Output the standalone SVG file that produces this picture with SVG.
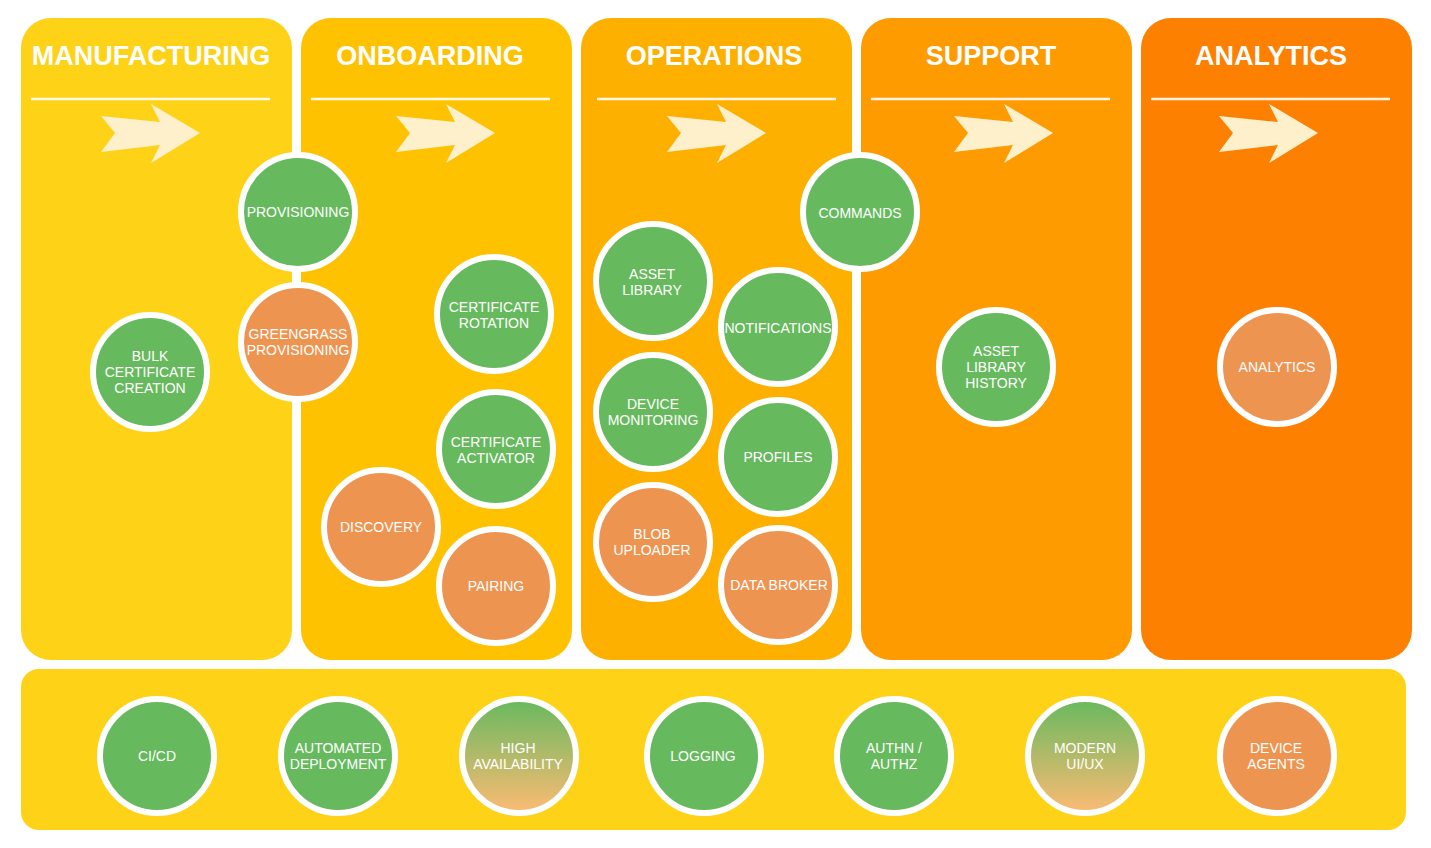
<svg xmlns="http://www.w3.org/2000/svg" width="1431" height="848" viewBox="0 0 1431 848">
  <defs>
    <style>
      .title { font-family: "Liberation Sans", Arial, sans-serif; font-weight: bold; font-size: 27px; fill: #ffffff; text-anchor: middle; }
      .rule { stroke: #ffffff; stroke-width: 2.5; stroke-opacity: 0.9; }
      .arrow { fill: #FFF0CC; }
      .node circle { stroke: #ffffff; stroke-width: 6; }
      .green { fill: #67B95E; }
      .orange { fill: #EE9451; }
      .grad { fill: url(#mixFill); }
      .node text { font-family: "Liberation Sans", Arial, sans-serif; font-size: 14px; fill: #ffffff; text-anchor: middle; }
    </style>
    <linearGradient id="mixFill" x1="0" y1="0" x2="0" y2="1">
      <stop offset="0" stop-color="#67B95E"/>
      <stop offset="1" stop-color="#FDBB74"/>
    </linearGradient>
    <path id="chevron" d="M101,116 L115,133 L101,152 L160,145 L151,163 L200,133 L151,104 L160,122 Z"/>
  </defs>

  <!-- lanes -->
  <g id="lane-manufacturing">
    <rect x="21" y="18" width="271" height="642" rx="30" fill="#FDD217"/>
    <text class="title" x="151" y="65">MANUFACTURING</text>
    <line class="rule" x1="31" y1="99" x2="270" y2="99"/>
    <use href="#chevron" class="arrow"/>
  </g>
  <g id="lane-onboarding">
    <rect x="301" y="18" width="271" height="642" rx="30" fill="#FEC200"/>
    <text class="title" x="430" y="65">ONBOARDING</text>
    <line class="rule" x1="311" y1="99" x2="550" y2="99"/>
    <use href="#chevron" class="arrow" x="295"/>
  </g>
  <g id="lane-operations">
    <rect x="581" y="18" width="271" height="642" rx="30" fill="#FEB000"/>
    <text class="title" x="714" y="65">OPERATIONS</text>
    <line class="rule" x1="597" y1="99" x2="836" y2="99"/>
    <use href="#chevron" class="arrow" x="566"/>
  </g>
  <g id="lane-support">
    <rect x="861" y="18" width="271" height="642" rx="30" fill="#FE9B00"/>
    <text class="title" x="991" y="65">SUPPORT</text>
    <line class="rule" x1="871" y1="99" x2="1110" y2="99"/>
    <use href="#chevron" class="arrow" x="853"/>
  </g>
  <g id="lane-analytics">
    <rect x="1141" y="18" width="271" height="642" rx="30" fill="#FE8000"/>
    <text class="title" x="1271" y="65">ANALYTICS</text>
    <line class="rule" x1="1151" y1="99" x2="1390" y2="99"/>
    <use href="#chevron" class="arrow" x="1118"/>
  </g>

  <!-- cross-cutting band -->
  <g id="foundation-band">
    <rect x="21" y="669" width="1385" height="161" rx="18" fill="#FDD217"/>
  </g>

  <g id="connectors"/>

  <!-- lane nodes -->
  <g id="node-provisioning" class="node"><circle class="green" cx="298" cy="212" r="57"/><text x="298" y="217">PROVISIONING</text></g>
  <g id="node-greengrass-provisioning" class="node"><circle class="orange" cx="298" cy="342" r="57"/><text x="298" y="339">GREENGRASS</text><text x="298" y="355">PROVISIONING</text></g>
  <g id="node-bulk-certificate" class="node"><circle class="green" cx="150" cy="372" r="57"/><text x="150" y="361">BULK</text><text x="150" y="377">CERTIFICATE</text><text x="150" y="393">CREATION</text></g>
  <g id="node-certificate-rotation" class="node"><circle class="green" cx="494" cy="314" r="57"/><text x="494" y="312">CERTIFICATE</text><text x="494" y="328">ROTATION</text></g>
  <g id="node-certificate-activator" class="node"><circle class="green" cx="496" cy="449" r="57"/><text x="496" y="447">CERTIFICATE</text><text x="496" y="463">ACTIVATOR</text></g>
  <g id="node-discovery" class="node"><circle class="orange" cx="381" cy="527" r="57"/><text x="381" y="532">DISCOVERY</text></g>
  <g id="node-pairing" class="node"><circle class="orange" cx="496" cy="586" r="57"/><text x="496" y="591">PAIRING</text></g>
  <g id="node-asset-library" class="node"><circle class="green" cx="653" cy="281" r="57"/><text x="652" y="279">ASSET</text><text x="652" y="295">LIBRARY</text></g>
  <g id="node-notifications" class="node"><circle class="green" cx="778" cy="327" r="57"/><text x="778" y="333">NOTIFICATIONS</text></g>
  <g id="node-device-monitoring" class="node"><circle class="green" cx="653" cy="412" r="57"/><text x="653" y="409">DEVICE</text><text x="653" y="425">MONITORING</text></g>
  <g id="node-profiles" class="node"><circle class="green" cx="778" cy="457" r="57"/><text x="778" y="462">PROFILES</text></g>
  <g id="node-blob-uploader" class="node"><circle class="orange" cx="653" cy="542" r="57"/><text x="652" y="539">BLOB</text><text x="652" y="555">UPLOADER</text></g>
  <g id="node-data-broker" class="node"><circle class="orange" cx="778" cy="585" r="57"/><text x="779" y="590">DATA BROKER</text></g>
  <g id="node-commands" class="node"><circle class="green" cx="860" cy="212" r="57"/><text x="860" y="218">COMMANDS</text></g>
  <g id="node-asset-library-history" class="node"><circle class="green" cx="996" cy="367" r="57"/><text x="996" y="356">ASSET</text><text x="996" y="372">LIBRARY</text><text x="996" y="388">HISTORY</text></g>
  <g id="node-analytics" class="node"><circle class="orange" cx="1277" cy="367" r="57"/><text x="1277" y="372">ANALYTICS</text></g>

  <!-- foundation nodes -->
  <g id="node-cicd" class="node"><circle class="green" cx="157" cy="756" r="57"/><text x="157" y="761">CI/CD</text></g>
  <g id="node-automated-deployment" class="node"><circle class="green" cx="338" cy="756" r="57"/><text x="338" y="753">AUTOMATED</text><text x="338" y="769">DEPLOYMENT</text></g>
  <g id="node-high-availability" class="node"><circle class="grad" cx="519" cy="756" r="57"/><text x="518" y="753">HIGH</text><text x="518" y="769">AVAILABILITY</text></g>
  <g id="node-logging" class="node"><circle class="green" cx="704" cy="756" r="57"/><text x="703" y="761">LOGGING</text></g>
  <g id="node-authn-authz" class="node"><circle class="green" cx="894" cy="756" r="57"/><text x="894" y="753">AUTHN /</text><text x="894" y="769">AUTHZ</text></g>
  <g id="node-modern-uiux" class="node"><circle class="grad" cx="1085" cy="756" r="57"/><text x="1085" y="753">MODERN</text><text x="1085" y="769">UI/UX</text></g>
  <g id="node-device-agents" class="node"><circle class="orange" cx="1277" cy="756" r="57"/><text x="1276" y="753">DEVICE</text><text x="1276" y="769">AGENTS</text></g>
</svg>
